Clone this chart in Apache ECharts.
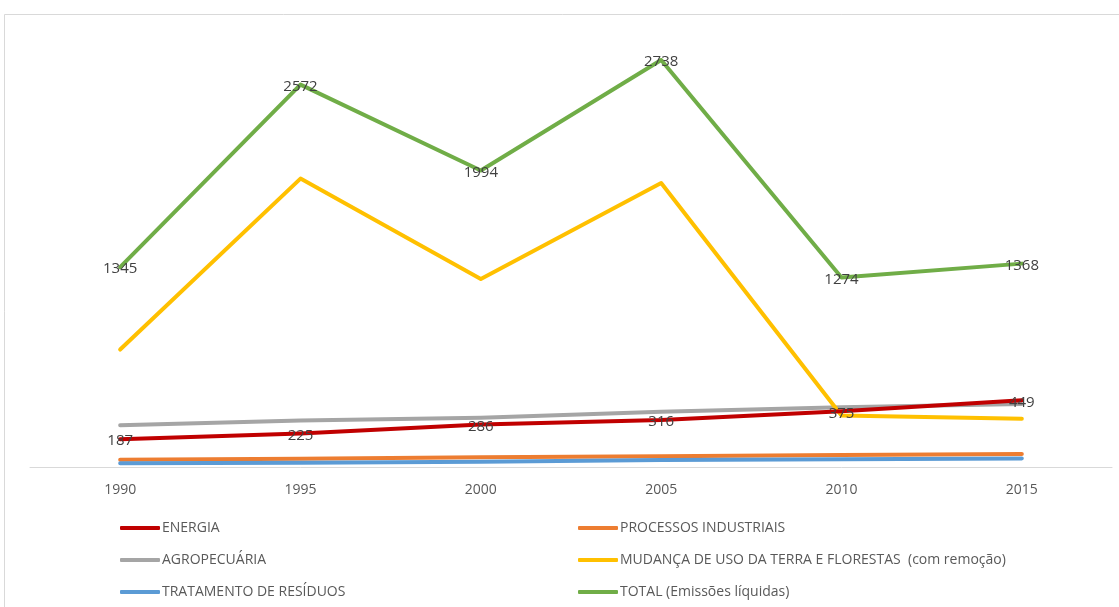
<!DOCTYPE html>
<html>
<head>
<meta charset="utf-8">
<script src="https://cdn.jsdelivr.net/npm/echarts@6/dist/echarts.min.js"></script>
<style>
html,body{margin:0;padding:0;background:#fff;}
#chart{width:1119px;height:607px;}
</style>
</head>
<body>
<div id="chart"></div>
<script>
const years = ['1990','1995','2000','2005','2010','2015'];
const energia = [187, 225, 286, 316, 375, 449];
const processos = [49, 56, 65, 72, 81, 87];
const agropecuaria = [281, 312, 332, 372, 402, 424];
const mudanca = [790, 1940, 1265, 1910, 346, 325];
const residuos = [25, 29, 36, 47, 52, 58];
const total = [1345, 2572, 1994, 2738, 1274, 1368];

const names = ['ENERGIA','PROCESSOS INDUSTRIAIS','AGROPECUÁRIA','MUDANÇA DE USO DA TERRA E FLORESTAS  (com remoção)','TRATAMENTO DE RESÍDUOS','TOTAL (Emissões líquidas)'];
const colors = ['#C00000','#ED7D31','#A5A5A5','#FFC000','#5B9BD5','#70AD47'];
const seriesData = [energia, processos, agropecuaria, mudanca, residuos, total];
const labeled = [true, false, false, false, false, true];
const zs = [9, 3, 4, 5, 6, 10];

const FONT = 'Open Sans';
const legendBase = {orient:'vertical', top:520, height:120, padding:0, itemGap:16, itemWidth:40, itemHeight:4, icon:'roundRect',
  textStyle:{color:'#595959', fontFamily:FONT, fontSize:14, lineHeight:16, padding:[0,0,0,-3]}};
const chart = echarts.init(document.getElementById('chart'), null, {renderer:'canvas'});
chart.setOption({
  animation:false,
  backgroundColor:'#fff',
  color: colors,
  graphic:[{type:'rect', shape:{x:4.5,y:14.5,width:1300,height:800}, style:{fill:'none', stroke:'#d9d9d9', lineWidth:1}, silent:true}],
  grid:{left:30, right:7, top:21, bottom:140},
  xAxis:{type:'category', data:years, boundaryGap:true,
    axisLine:{lineStyle:{color:'#d9d9d9', width:1}}, axisTick:{show:false},
    axisLabel:{color:'#595959', fontFamily:FONT, fontSize:14, margin:16}},
  yAxis:{type:'value', min:0, max:3000, show:false, splitLine:{show:false}},
  legend:[
    Object.assign({}, legendBase, {data:[names[0],names[2],names[4]], left:120}),
    Object.assign({}, legendBase, {data:[names[1],names[3],names[5]], left:578})
  ],
  series: names.map((n,i)=>({
    name:n, type:'line', data:seriesData[i],
    symbol:'circle', symbolSize:1, showSymbol:true,
    lineStyle:{width:4, color:colors[i], cap:'round', join:'round'},
    itemStyle:{color:colors[i]},
    label:{show:labeled[i], position:'inside', offset:[0,2], color:'#404040', fontFamily:FONT, fontSize:15},
    z: zs[i]
  }))
});
</script>
</body>
</html>
